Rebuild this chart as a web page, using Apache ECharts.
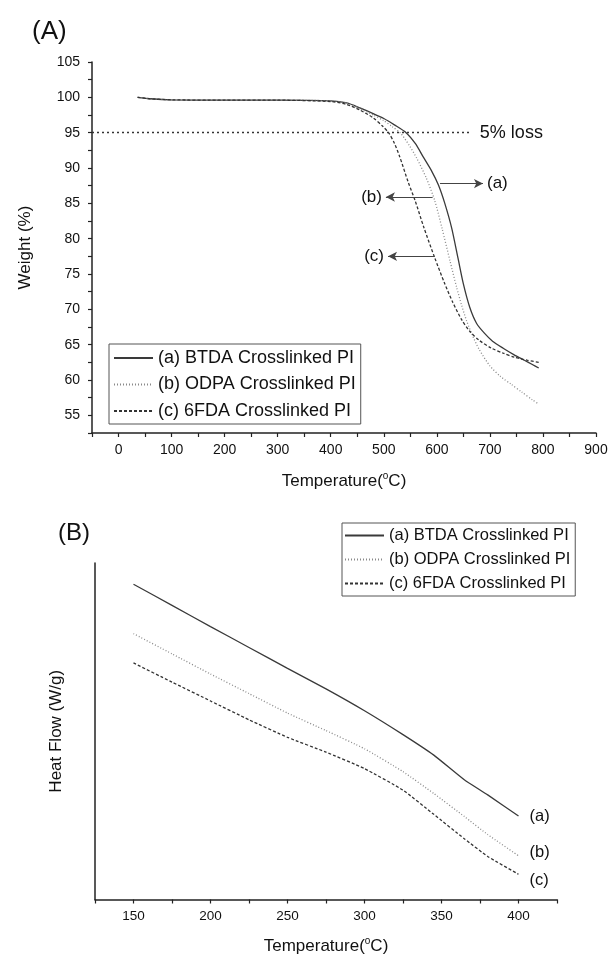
<!DOCTYPE html>
<html>
<head>
<meta charset="utf-8">
<script src="https://cdn.jsdelivr.net/npm/echarts@6/dist/echarts.min.js"></script>
<style>
  html, body { margin: 0; padding: 0; background: #fff; }
  #chart { width: 612px; height: 956px; }
</style>
</head>
<body>
<div id="chart"></div>
<script>
  'use strict'

  /*----- (A) TGA curves -----*/
  var seriesNames = ['(a) BTDA Crosslinked PI', '(b) ODPA Crosslinked PI', '(c) 6FDA Crosslinked PI'];

  var tgaBTDA = [
    [36, 100.0], [60, 99.8], [100, 99.65], [200, 99.6], [300, 99.6], [400, 99.5],
    [430, 99.2], [455, 98.5], [480, 97.7], [500, 97.0], [520, 96.1], [542, 95.0],
    [560, 93.4], [574, 91.6], [590, 89.6], [603, 87.6], [615, 85.0], [628, 81.5],
    [640, 77.2], [650, 73.6], [662, 70.3], [675, 68.0], [690, 66.6], [705, 65.5],
    [725, 64.5], [745, 63.6], [765, 62.8], [780, 62.2], [792, 61.7]
  ];
  var tgaODPA = [
    [36, 100.0], [60, 99.8], [100, 99.65], [200, 99.6], [300, 99.6], [400, 99.5],
    [430, 99.2], [455, 98.4], [480, 97.5], [500, 96.7], [515, 95.9], [532, 94.9],
    [548, 93.2], [562, 91.4], [580, 88.6], [596, 85.4], [610, 81.4], [625, 76.8],
    [637, 73.2], [647, 70.5], [656, 68.4], [666, 66.5], [680, 64.3], [700, 62.0],
    [720, 60.5], [740, 59.4], [760, 58.3], [780, 57.2], [792, 56.6]
  ];
  var tga6FDA = [
    [36, 100.0], [60, 99.8], [100, 99.65], [200, 99.6], [300, 99.6], [400, 99.4],
    [430, 99.0], [455, 98.2], [480, 97.1], [498, 95.9], [510, 94.9], [520, 93.5],
    [530, 91.6], [546, 88.0], [559, 85.4], [575, 81.7], [596, 77.3], [614, 73.8],
    [630, 71.0], [647, 68.5], [662, 66.9], [680, 65.6], [703, 64.5], [725, 63.8],
    [747, 63.2], [770, 62.8], [792, 62.5]
  ];
  var tgaXTicks = { min: -50, max: 900, step: 50 };
  var tgaYTicks = { min: 52.5, max: 105, step: 2.5 };
  var lossLevel = 95;
  var lossLineEnd = 666;
  var arrowA = [[606, 87.8], [687, 87.8]];
  var arrowB = [[592, 85.9], [504, 85.9]];
  var arrowC = [[596, 77.5], [508, 77.5]];

  /*----- (B) DSC curves -----*/
  var dscTemp = [150, 175, 200, 225, 250, 275, 300, 325, 345, 365, 380, 400];
  var dscBTDA = [93.7, 87.4, 81.1, 74.9, 68.7, 62.6, 56.1, 49.0, 42.9, 35.5, 31.1, 24.8];
  var dscODPA = [79.0, 73.0, 67.0, 61.2, 55.4, 50.2, 44.8, 38.0, 31.5, 24.6, 19.3, 13.0];
  var dsc6FDA = [70.3, 64.6, 59.0, 53.4, 48.2, 43.8, 38.9, 32.5, 25.3, 18.0, 12.8, 7.5];
  var dscXTicks = { min: 125, max: 425, step: 25 };

  var font = 'Liberation Sans, Arial, Helvetica, sans-serif';
  var ink = '#222';
  var colA = '#3a3a3a', colB = '#8a8a8a', colC = '#333';

  function pairs(xs, ys) {
    return xs.map(function (x, i) { return [x, ys[i]]; });
  }

  function arrowLine(pts, text) {
    return {
      silent: true,
      symbol: ['none', 'arrow'],
      symbolSize: [7, 9],
      lineStyle: { color: '#444', width: 1.2, type: 'solid' },
      label: { show: true, position: 'end', formatter: text, color: '#111', fontSize: 17, fontFamily: font, distance: 4 },
      data: [[{ coord: pts[0] }, { coord: pts[1] }]]
    };
  }

  var tempName = '{t|Temperature(}{s|o}{t|C)}';
  var tempRich = {
    t: { fontSize: 17, fontFamily: font, color: '#111', lineHeight: 20 },
    s: { fontSize: 10, fontFamily: font, color: '#111', lineHeight: 20, verticalAlign: 'top', padding: [0, 0, 8, 0] }
  };

  // legend: keep only the line sample, no marker dot
  var legendBase = {
    orient: 'vertical', itemWidth: 39, itemHeight: 14, selectedMode: false,
    borderColor: '#555', borderWidth: 1,
    itemStyle: { color: 'rgba(0,0,0,0)', borderWidth: 0, opacity: 0 }
  };

  var option = {
    animation: false,
    backgroundColor: '#fff',
    title: [
      { text: '(A)', left: 27, top: 14, textStyle: { fontSize: 26, fontWeight: 'normal', color: '#111', fontFamily: font } },
      { text: '(B)', left: 53, top: 516, textStyle: { fontSize: 24, fontWeight: 'normal', color: '#111', fontFamily: font } }
    ],
    grid: [
      { left: 92, right: 16, top: 62, bottom: 523 },
      { left: 95, right: 55, top: 563, bottom: 54 }
    ],
    legend: [
      Object.assign({}, legendBase, {
        data: seriesNames, left: 109, top: 344, itemGap: 8.5, padding: [5, 5, 4, 4],
        textStyle: { fontSize: 18, fontFamily: font, color: '#111' }
      }),
      Object.assign({}, legendBase, {
        data: seriesNames, left: 342, top: 523, itemGap: 7, padding: [4, 5, 4, 2],
        textStyle: { fontSize: 16.5, fontFamily: font, color: '#111' }
      })
    ],
    xAxis: [
      {
        type: 'value', gridIndex: 0,
        min: tgaXTicks.min, max: tgaXTicks.max, interval: tgaXTicks.step,
        name: tempName, nameLocation: 'middle', nameGap: 38,
        nameTextStyle: { rich: tempRich },
        axisLine: { onZero: false, lineStyle: { color: ink, width: 1.5 } },
        axisTick: { length: 4, lineStyle: { color: ink, width: 1.2 } },
        axisLabel: {
          fontSize: 14, color: '#111', fontFamily: font, margin: 10,
          formatter: function (v) { return v % 100 === 0 ? String(v) : ''; }
        },
        splitLine: { show: false }
      },
      {
        type: 'value', gridIndex: 1,
        min: dscXTicks.min, max: dscXTicks.max, interval: dscXTicks.step,
        name: tempName, nameLocation: 'middle', nameGap: 37,
        nameTextStyle: { rich: tempRich },
        axisLine: { onZero: false, lineStyle: { color: ink, width: 1.5 } },
        axisTick: { length: 4, lineStyle: { color: ink, width: 1.2 } },
        axisLabel: {
          fontSize: 13.5, color: '#111', fontFamily: font, margin: 10,
          formatter: function (v) { return v % 50 === 0 && v !== 125 && v !== 425 ? String(v) : ''; }
        },
        splitLine: { show: false }
      }
    ],
    yAxis: [
      {
        type: 'value', gridIndex: 0,
        min: tgaYTicks.min, max: tgaYTicks.max, interval: tgaYTicks.step,
        name: 'Weight (%)', nameLocation: 'middle', nameGap: 58,
        nameTextStyle: { fontSize: 17, fontFamily: font, color: '#111' },
        axisLine: { show: true, onZero: false, lineStyle: { color: ink, width: 1.5 } },
        axisTick: { show: true, length: 4, lineStyle: { color: ink, width: 1.2 } },
        axisLabel: {
          fontSize: 14, color: '#111', fontFamily: font, margin: 12,
          formatter: function (v) { return v % 5 === 0 ? String(v) : ''; }
        },
        splitLine: { show: false }
      },
      {
        type: 'value', gridIndex: 1, min: 0, max: 100,
        name: 'Heat Flow (W/g)', nameLocation: 'middle', nameGap: 30,
        nameTextStyle: { fontSize: 17, fontFamily: font, color: '#111' },
        axisLine: { show: true, onZero: false, lineStyle: { color: ink, width: 1.5 } },
        axisTick: { show: false },
        axisLabel: { show: false },
        splitLine: { show: false }
      }
    ],
    series: [
      {
        name: seriesNames[0], type: 'line', xAxisIndex: 0, yAxisIndex: 0,
        data: tgaBTDA, showSymbol: false, symbol: 'none', smooth: 0.25,
        lineStyle: { color: colA, width: 1.3, type: 'solid' },
        itemStyle: { color: colA },
        markLine: {
          silent: true, symbol: ['none', 'none'],
          lineStyle: { color: '#333', width: 1.3, type: [2, 3] },
          label: { show: true, position: 'end', formatter: '5% loss', color: '#111', fontSize: 18, fontFamily: font, distance: 8 },
          data: [
            [{ coord: [tgaXTicks.min, lossLevel] }, { coord: [lossLineEnd, lossLevel] }]
          ]
        }
      },
      {
        name: seriesNames[1], type: 'line', xAxisIndex: 0, yAxisIndex: 0,
        data: tgaODPA, showSymbol: false, symbol: 'none', smooth: 0.25,
        lineStyle: { color: colB, width: 1.3, type: [1, 2] },
        itemStyle: { color: colB },
        markLine: arrowLine(arrowB, '(b)')
      },
      {
        name: seriesNames[2], type: 'line', xAxisIndex: 0, yAxisIndex: 0,
        data: tga6FDA, showSymbol: false, symbol: 'none', smooth: 0.25,
        lineStyle: { color: colC, width: 1.3, type: [3, 2] },
        itemStyle: { color: colC },
        markLine: arrowLine(arrowC, '(c)')
      },
      {
        name: seriesNames[0], type: 'line', xAxisIndex: 0, yAxisIndex: 0,
        data: [], symbol: 'none',
        lineStyle: { color: colA, width: 1.3 },
        markLine: arrowLine(arrowA, '(a)')
      },
      {
        name: seriesNames[0], type: 'line', xAxisIndex: 1, yAxisIndex: 1,
        data: pairs(dscTemp, dscBTDA), showSymbol: false, symbol: 'none', smooth: 0.15,
        lineStyle: { color: colA, width: 1.3, type: 'solid' },
        itemStyle: { color: colA },
        endLabel: { show: true, formatter: '(a)', distance: 11, offset: [0, 0], color: '#111', fontSize: 16.5, fontFamily: font }
      },
      {
        name: seriesNames[1], type: 'line', xAxisIndex: 1, yAxisIndex: 1,
        data: pairs(dscTemp, dscODPA), showSymbol: false, symbol: 'none', smooth: 0.15,
        lineStyle: { color: colB, width: 1.3, type: [1, 2] },
        itemStyle: { color: colB },
        endLabel: { show: true, formatter: '(b)', distance: 11, offset: [0, -3], color: '#111', fontSize: 16.5, fontFamily: font }
      },
      {
        name: seriesNames[2], type: 'line', xAxisIndex: 1, yAxisIndex: 1,
        data: pairs(dscTemp, dsc6FDA), showSymbol: false, symbol: 'none', smooth: 0.15,
        lineStyle: { color: colC, width: 1.3, type: [3, 2] },
        itemStyle: { color: colC },
        endLabel: { show: true, formatter: '(c)', distance: 11, offset: [0, 6], color: '#111', fontSize: 16.5, fontFamily: font }
      }
    ]
  };

  var chart = echarts.init(document.getElementById('chart'));
  chart.setOption(option);
</script>
</body>
</html>
